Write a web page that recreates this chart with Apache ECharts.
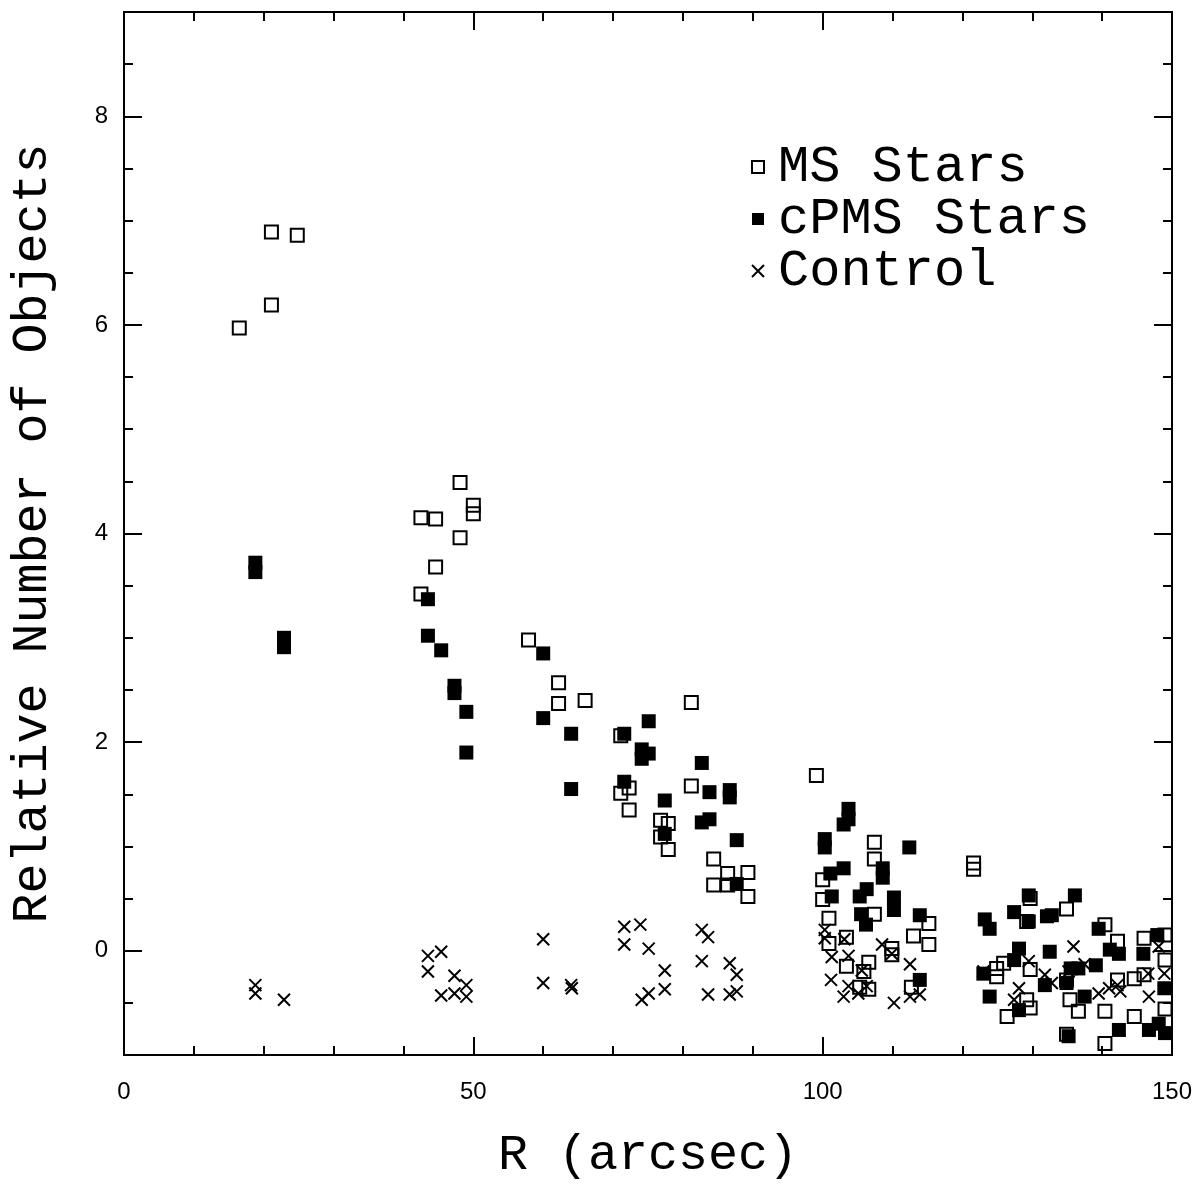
<!DOCTYPE html>
<html>
<head>
<meta charset="utf-8">
<script src="https://cdn.jsdelivr.net/npm/echarts@6/dist/echarts.min.js"></script>
<style>
html,body{margin:0;padding:0;background:#fff;}
#chart{width:1198px;height:1186px;}
</style>
</head>
<body>
<div id="chart"></div>
<script>
// ---- data: [R (arcsec), relative number] ----
const msStars = [
  [16.5,5.97],[21.1,6.89],[21.1,6.19],[24.8,6.86],
  [42.5,4.15],[44.6,4.14],[48.1,4.49],[50.0,4.27],[50.0,4.19],[48.1,3.96],[44.6,3.68],[42.5,3.42],
  [57.9,2.98],[62.2,2.57],[62.2,2.37],[66.0,2.40],[81.2,2.38],[71.1,2.06],[81.2,1.58],[71.1,1.51],
  [72.3,1.56],[72.3,1.35],[76.8,1.25],[77.9,1.22],[76.8,1.09],[77.9,0.97],
  [84.4,0.88],[86.4,0.74],[89.3,0.75],[84.4,0.63],[86.4,0.63],[89.3,0.52],
  [99.1,1.68],[100.0,0.68],[100.0,0.49],[100.9,0.31],[100.9,0.07],[103.4,0.13],[103.4,-0.15],
  [107.4,1.04],[107.4,0.88],[107.4,0.35],[106.6,-0.11],[105.9,-0.20],[105.3,-0.35],[106.6,-0.37],
  [109.9,0.02],[109.9,-0.04],[113.0,0.14],[115.2,0.26],[115.2,0.06],[112.7,-0.35],
  [121.6,0.84],[121.6,0.78],[129.7,0.50],[134.9,0.40],[140.4,0.25],[142.2,0.09],[146.0,0.12],[149.0,0.15],
  [129.2,0.28],[125.9,-0.12],[124.9,-0.17],[124.9,-0.25],[129.7,-0.18],[134.9,-0.28],[142.2,-0.28],
  [144.6,-0.27],[146.0,-0.23],[149.0,-0.09],[129.2,-0.47],[129.7,-0.55],[126.4,-0.63],[135.4,-0.47],
  [136.6,-0.58],[140.4,-0.58],[144.6,-0.63],[149.0,-0.56],[134.9,-0.80],[140.4,-0.89]
];
const cpmsStars = [
  [18.8,3.72],[18.8,3.63],[22.9,3.00],[22.9,2.91],
  [43.5,3.37],[43.5,3.02],[45.4,2.88],[47.3,2.54],[47.3,2.47],[49.0,2.29],[49.0,1.90],
  [60.0,2.85],[60.0,2.23],[64.0,2.08],[64.0,1.55],[75.1,2.20],[71.6,2.08],[74.1,1.93],[75.1,1.89],
  [74.1,1.84],[82.7,1.80],[83.8,1.52],[86.7,1.54],[86.7,1.47],[71.6,1.62],[77.4,1.44],[77.4,1.12],
  [82.7,1.23],[83.8,1.26],[87.7,1.06],[87.7,0.64],
  [100.3,1.07],[100.3,0.99],[103.7,1.36],[103.7,1.26],[103.0,1.21],[112.4,0.99],[108.6,0.79],[108.6,0.70],
  [101.1,0.74],[103.0,0.79],[101.3,0.52],[106.3,0.59],[105.3,0.52],[110.2,0.51],[110.2,0.39],
  [105.5,0.35],[106.2,0.25],[113.9,0.34],[113.9,-0.28],
  [129.5,0.53],[136.1,0.53],[123.2,0.30],[123.9,0.21],[127.4,0.37],[129.5,0.28],[132.1,0.33],[132.8,0.34],
  [139.5,0.21],[132.5,-0.01],[128.1,0.02],[141.1,0.01],[142.4,-0.03],[145.9,-0.03],[147.9,0.15],
  [127.4,-0.09],[123.0,-0.22],[135.5,-0.17],[136.6,-0.17],[139.1,-0.14],[131.8,-0.33],[134.9,-0.31],
  [137.5,-0.44],[148.9,-0.36],[123.9,-0.44],[128.1,-0.57],[135.2,-0.82],[142.4,-0.76],[146.7,-0.76],
  [148.1,-0.70],[149.0,-0.79]
];
const control = [
  [18.8,-0.33],[18.8,-0.41],[22.9,-0.47],
  [43.5,-0.05],[45.4,-0.01],[43.5,-0.20],[47.3,-0.24],[45.4,-0.43],[47.3,-0.41],[49.0,-0.33],[49.0,-0.44],
  [60.0,0.11],[60.0,-0.31],[64.0,-0.33],[64.1,-0.36],
  [71.6,0.23],[73.9,0.25],[71.6,0.06],[75.1,0.02],[77.4,-0.19],[77.4,-0.37],[75.1,-0.41],[74.1,-0.47],
  [82.7,0.20],[83.6,0.13],[82.7,-0.10],[86.7,-0.12],[87.7,-0.23],[83.6,-0.42],[86.7,-0.42],[87.7,-0.39],
  [100.3,0.20],[100.3,0.12],[103.1,0.11],[101.3,-0.06],[103.7,-0.05],[101.2,-0.28],[103.7,-0.34],[103.0,-0.44],
  [105.6,-0.19],[106.3,-0.34],[105.1,-0.41],[108.5,0.06],[109.9,-0.03],[112.5,-0.13],[110.2,-0.50],
  [112.5,-0.44],[113.9,-0.42],
  [123.0,-0.20],[129.5,-0.10],[131.8,-0.23],[132.8,-0.31],[135.9,0.04],[128.1,-0.36],[127.4,-0.47],
  [137.5,-0.13],[139.5,-0.41],[141.0,-0.36],[142.2,-0.33],[142.6,-0.39],[146.6,-0.22],[146.7,-0.44],
  [148.9,-0.22],[148.1,0.04],[135.2,-0.20]
];
const seriesNames = ['MS Stars', 'cPMS Stars', 'Control'];
const xMajorTicks = [0, 50, 100, 150];
const yMajorTicks = [0, 2, 4, 6, 8];
const xTitle = 'R (arcsec)';
const yTitle = 'Relative Number of Objects';

// ---- layout ----
const X_MIN = 0, X_MAX = 150, Y_MIN = -1, Y_MAX = 9;
const yMinorTicks = [];
for (let v = Y_MIN; v <= Y_MAX + 1e-9; v += 0.5) yMinorTicks.push(+v.toFixed(2));

const lineStyle = { color: '#000', width: 2 };
const labelFont = { color: '#000', fontFamily: 'Liberation Sans, Arial, sans-serif', fontSize: 24 };
const titleFont = { color: '#000', fontFamily: 'Liberation Mono, monospace', fontSize: 50 };

function xAx(pos, interval, len, showLabel, extra) {
  return Object.assign({
    type: 'value', position: pos, min: X_MIN, max: X_MAX, interval: interval,
    axisLine: { show: true, onZero: false, lineStyle: lineStyle },
    axisTick: { show: true, inside: true, length: len, lineStyle: { color: '#000', width: 2 } },
    axisLabel: Object.assign({ show: showLabel, margin: 25, customValues: xMajorTicks }, labelFont),
    splitLine: { show: false }
  }, extra || {});
}
function yAx(pos, ticks, len, showLabel, extra) {
  return Object.assign({
    type: 'value', position: pos, min: Y_MIN, max: Y_MAX,
    axisLine: { show: true, onZero: false, lineStyle: lineStyle },
    axisTick: { show: true, inside: true, length: len, customValues: ticks, lineStyle: { color: '#000', width: 2 } },
    axisLabel: Object.assign({ show: showLabel, margin: 16, customValues: yMajorTicks }, labelFont),
    splitLine: { show: false }
  }, extra || {});
}

const crossPath = 'path://M0,0L10,10M10,0L0,10';

const chart = echarts.init(document.getElementById('chart'), null, { renderer: 'canvas' });
chart.setOption({
  animation: false,
  backgroundColor: '#fff',
  grid: { left: 123, right: 26, top: 12, bottom: 127, containLabel: false },
  xAxis: [
    xAx('bottom', 10, 9, false, {
      name: xTitle, nameLocation: 'middle', nameGap: 76, nameTextStyle: titleFont
    }),
    xAx('bottom', 50, 18, true),
    xAx('top', 10, 9, false),
    xAx('top', 50, 18, false)
  ],
  yAxis: [
    yAx('left', yMinorTicks, 9, false, {
      name: yTitle, nameLocation: 'middle', nameGap: 66, nameRotate: 90, nameTextStyle: titleFont
    }),
    yAx('left', yMajorTicks, 18, true),
    yAx('right', yMinorTicks, 9, false),
    yAx('right', yMajorTicks, 18, false)
  ],
  legend: {
    data: seriesNames,
    orient: 'vertical',
    left: 746, top: 136,
    itemWidth: 12, itemHeight: 12, itemGap: 0,
    textStyle: { color: '#000', fontFamily: 'Liberation Mono, monospace', fontSize: 52, lineHeight: 52, padding: [0, 0, 0, 9] },
    selectedMode: false
  },
  series: [
    {
      name: seriesNames[0], type: 'scatter', data: msStars, symbol: 'rect', symbolSize: 13,
      itemStyle: { color: 'rgba(255,255,255,0)', borderColor: '#000', borderWidth: 2, opacity: 1 },
      xAxisIndex: 0, yAxisIndex: 0, z: 3
    },
    {
      name: seriesNames[1], type: 'scatter', data: cpmsStars, symbol: 'rect', symbolSize: 14,
      itemStyle: { color: '#000', borderWidth: 0, opacity: 1 },
      xAxisIndex: 0, yAxisIndex: 0, z: 4
    },
    {
      name: seriesNames[2], type: 'scatter', data: control, symbol: crossPath, symbolSize: 12,
      itemStyle: { color: 'rgba(0,0,0,0)', borderColor: '#000', borderWidth: 2, opacity: 1 },
      xAxisIndex: 0, yAxisIndex: 0, z: 5
    }
  ]
});
</script>
</body>
</html>
